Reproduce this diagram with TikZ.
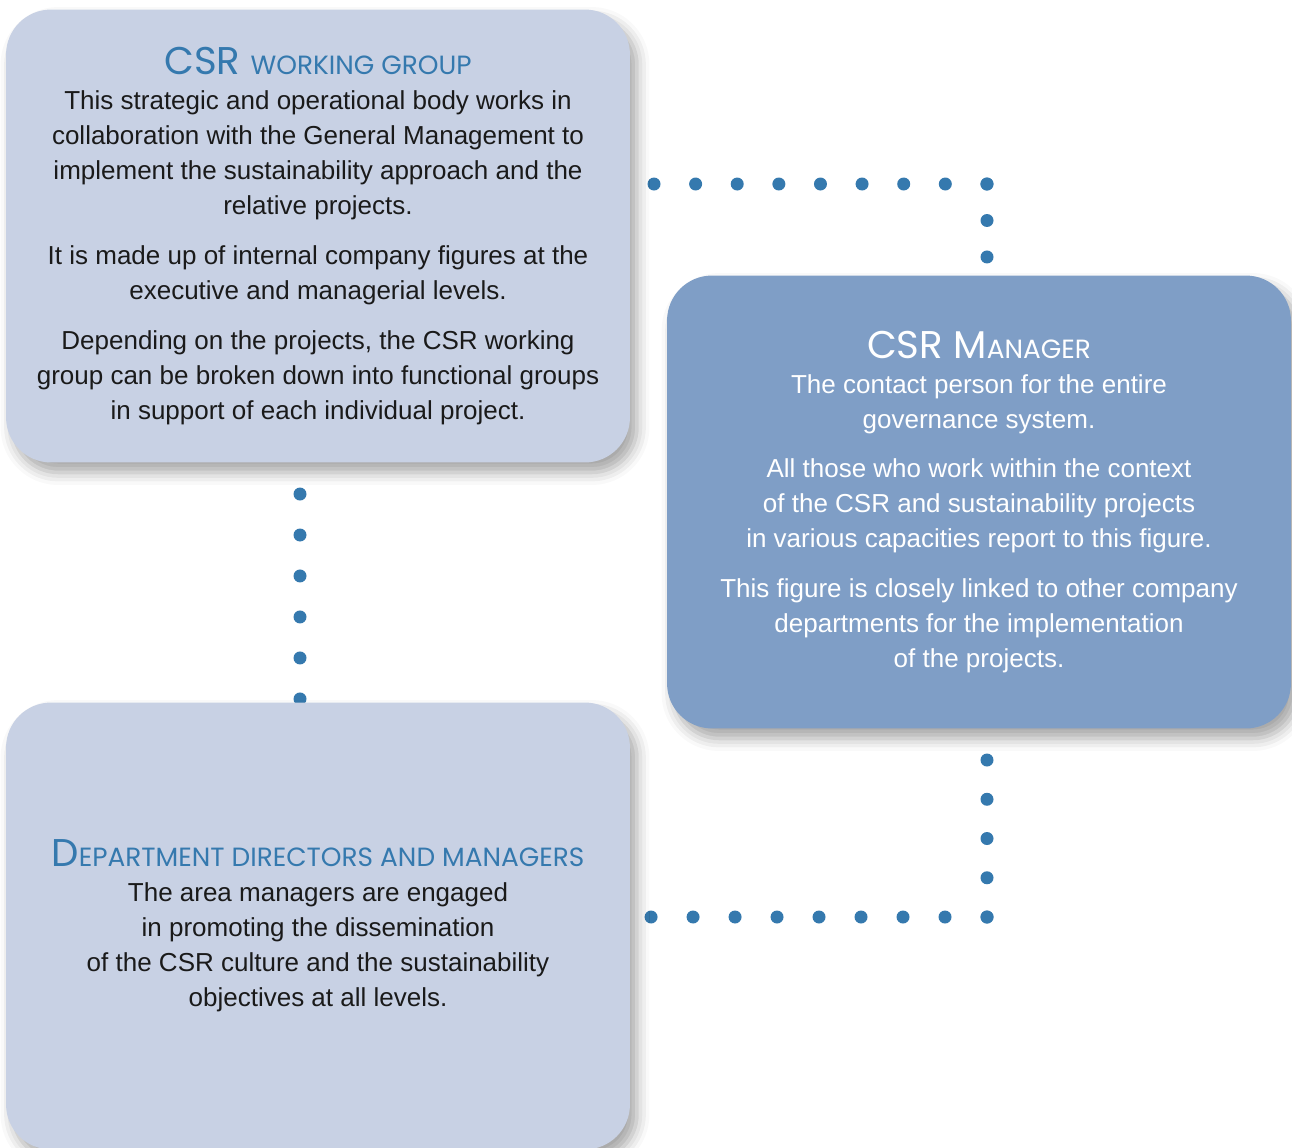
\documentclass[tikz,border=0pt]{standalone}
\usepackage{fontspec}
\setmainfont{Liberation Sans}
\newfontfamily\titlefont{Poppins}
\usetikzlibrary{positioning,shadows.blur}

\definecolor{lightfill}{HTML}{C8D1E4}
\definecolor{darkfill}{HTML}{7F9EC6}
\definecolor{dotblue}{HTML}{3579AE}
\definecolor{bodytext}{HTML}{1A1A1A}

% title with fake small caps
\newcommand{\capstitle}[2]{{\titlefont\fontsize{22}{22}\selectfont #1{\fontsize{15}{15}\selectfont\MakeUppercase{#2}}}}

\tikzset{
    govbox/.style={rounded corners=0.9cm, minimum width=12.48cm, minimum height=9.06cm,
        align=center, inner sep=0pt, font=\fontsize{14.8}{19.9}\selectfont,
        blur shadow={shadow xshift=0.14cm, shadow yshift=-0.2cm, shadow blur radius=0.25cm, shadow opacity=35}},
    lightbox/.style={govbox, fill=lightfill, text=bodytext},
    darkbox/.style={govbox, fill=darkfill, text=white},
    dotline/.style={dotblue, line width=0.26cm, line cap=round, dash pattern=on 0pt off #1},
    dotline/.default=0.83cm
}

\begin{document}
\begin{tikzpicture}[x=0.02cm, y=-0.02cm]
    \useasboundingbox (0,0) rectangle (1292,1147);

    % corners of the dotted links
    \coordinate (topcorner) at (987,184);
    \coordinate (lowcorner) at (987,917);

    % dotted links, drawn under the boxes
    \draw[dotline=0.8325cm] (654,184) -- (topcorner);
    \draw[dotline=0.73cm] (topcorner) -- (987,300);
    \draw[dotline=0.82cm] (300,494) -- (300,720);
    \draw[dotline=0.785cm] (lowcorner) -- (987,700);
    \draw[dotline=0.84cm] (lowcorner) -- (651,917);

    \node[lightbox] (group) at (318,236) {%
        {\color{dotblue}\capstitle{CSR }{working group}}\\
        This strategic and operational body works in\\
        collaboration with the General Management to\\
        implement the sustainability approach and the\\
        relative projects.\\[0.3cm]
        It is made up of internal company figures at the\\
        executive and managerial levels.\\[0.3cm]
        Depending on the projects, the CSR working\\
        group can be broken down into functional groups\\
        in support of each individual project.};

    \node[darkbox] (manager) at (979,502) {%
        \capstitle{CSR M}{anager}\\
        The contact person for the entire\\
        governance system.\\[0.3cm]
        All those who work within the context\\
        of the CSR and sustainability projects\\
        in various capacities report to this figure.\\[0.3cm]
        This figure is closely linked to other company\\
        departments for the implementation\\
        of the projects.};

    \node[lightbox, minimum height=8.94cm] (directors) at (318,926) {%
        {\color{dotblue}\capstitle{D}{epartment directors and managers}}\\
        The area managers are engaged\\
        in promoting the dissemination\\
        of the CSR culture and the sustainability\\
        objectives at all levels.};
\end{tikzpicture}
\end{document}
